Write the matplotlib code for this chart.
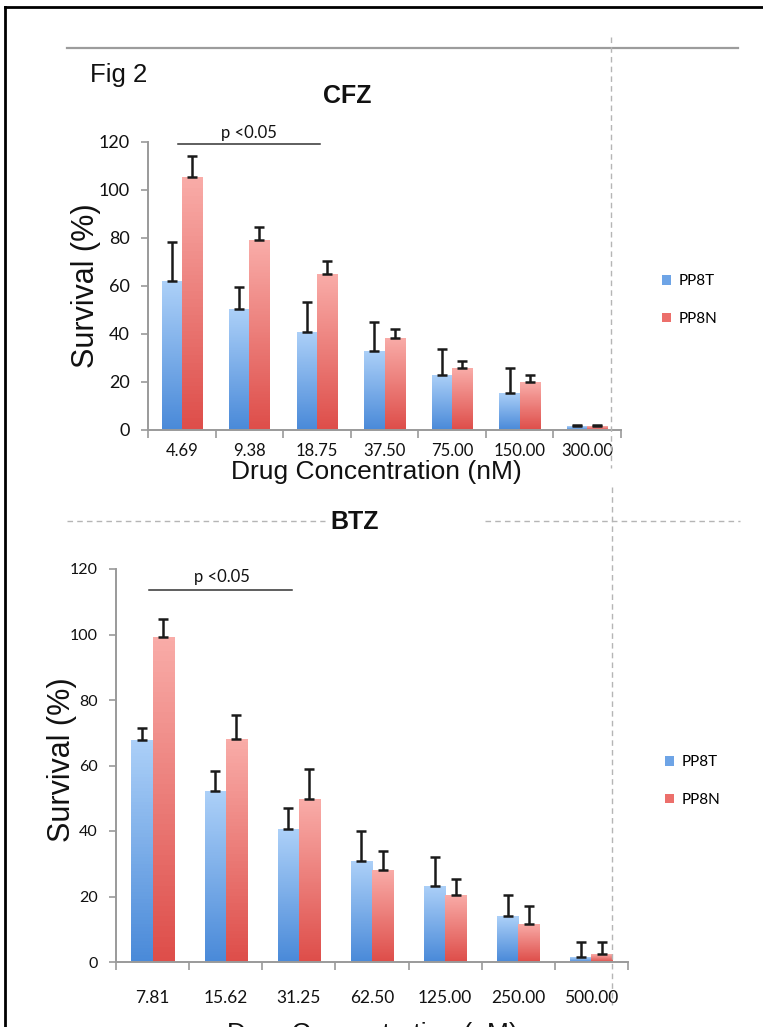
import numpy as np
import matplotlib
matplotlib.use("Agg")
import matplotlib.pyplot as plt
from matplotlib.lines import Line2D
from matplotlib.patches import Patch
from matplotlib.colors import LinearSegmentedColormap

# ---------------- data ----------------
cfz_conc = ["4.69", "9.38", "18.75", "37.50", "75.00", "150.00", "300.00"]
cfz_pp8t = [62.0, 50.5, 41.0, 33.0, 23.0, 15.5, 1.5]
cfz_pp8t_err = [16.5, 9.0, 12.5, 12.0, 10.7, 10.5, 0.5]
cfz_pp8n = [105.5, 79.0, 64.8, 38.5, 25.8, 20.0, 1.5]
cfz_pp8n_err = [8.8, 5.5, 5.5, 3.5, 3.0, 2.8, 0.5]

btz_conc = ["7.81", "15.62", "31.25", "62.50", "125.00", "250.00", "500.00"]
btz_pp8t = [67.8, 52.2, 40.5, 30.7, 23.3, 14.0, 1.5]
btz_pp8t_err = [3.8, 6.1, 6.4, 9.3, 8.8, 6.6, 4.7]
btz_pp8n = [99.3, 68.2, 49.7, 28.2, 20.6, 11.7, 2.3]
btz_pp8n_err = [5.3, 7.2, 9.1, 5.6, 4.6, 5.3, 3.9]

series_names = ["PP8T", "PP8N"]
yticks = [0, 20, 40, 60, 80, 100, 120]

# ---------------- figure ----------------
W, H = 763, 1027
fig = plt.figure(figsize=(W / 100, H / 100), dpi=100)
fig.patch.set_facecolor("white")

def fx(x):
    return x / W

def fy(y):
    return 1 - y / H

TICKFONT = ["Lato", "DejaVu Sans"]
LABFONT = ["Liberation Sans", "DejaVu Sans"]
TXT = "#111111"

blue_cmap = LinearSegmentedColormap.from_list("b", ["#4a8ad9", "#acd0f8"])
red_cmap = LinearSegmentedColormap.from_list("r", ["#de4e4a", "#f9aca8"])
grad = np.linspace(0, 1, 64).reshape(-1, 1)


def gradient_bars(ax, bars, cmap):
    for b in bars:
        x0, y0 = b.get_xy()
        w, h = b.get_width(), b.get_height()
        if h <= 0:
            continue
        im = ax.imshow(grad, extent=[x0, x0 + w, y0, y0 + h], cmap=cmap,
                       aspect="auto", origin="lower", zorder=2)
        im.set_clip_path(b)


def make_panel(rect, cats, t, terr, n, nerr, ylab_size, tick_size, width, xlabpad):
    ax = fig.add_axes(rect)
    x = np.arange(len(cats))
    b1 = ax.bar(x - width / 2, t, width, color="#7aaee9", zorder=1, linewidth=0)
    b2 = ax.bar(x + width / 2, n, width, color="#ee7c78", zorder=1, linewidth=0)
    gradient_bars(ax, b1, blue_cmap)
    gradient_bars(ax, b2, red_cmap)
    ekw = dict(fmt="none", ecolor="#1a1a1a", elinewidth=1.8, capsize=3.6,
               capthick=1.8, zorder=4)
    ax.errorbar(x - width / 2, t, yerr=[np.zeros(len(t)), terr], **ekw)
    ax.errorbar(x + width / 2, n, yerr=[np.zeros(len(n)), nerr], **ekw)
    ax.set_xlim(-0.5, len(cats) - 0.5)
    ax.set_ylim(0, 120)
    ax.set_yticks(yticks)
    ax.set_yticklabels([str(v) for v in yticks], fontsize=ylab_size,
                       family=TICKFONT, color=TXT)
    ax.set_xticks(x)
    ax.set_xticklabels(cats, fontsize=tick_size, family=TICKFONT, color=TXT)
    ax.set_xticks(np.arange(len(cats) + 1) - 0.5, minor=True)
    ax.tick_params(axis="x", which="major", length=0, pad=xlabpad)
    ax.tick_params(axis="x", which="minor", length=6, width=1.2, color="#9a9a9a",
                   direction="out")
    ax.tick_params(axis="y", length=5, width=1.2, color="#9a9a9a", direction="out",
                   pad=8)
    for s in ["top", "right"]:
        ax.spines[s].set_visible(False)
    for s in ["left", "bottom"]:
        ax.spines[s].set_color("#9a9a9a")
        ax.spines[s].set_linewidth(1.4)
    ax.patch.set_alpha(0)
    return ax


# top panel (CFZ)
ax1 = make_panel([fx(148), fy(430), fx(621) - fx(148), fy(142) - fy(430)],
                 cfz_conc, cfz_pp8t, cfz_pp8t_err, cfz_pp8n, cfz_pp8n_err,
                 13, 12, 0.30, 9)
# bottom panel (BTZ)
ax2 = make_panel([fx(116), fy(962), fx(628) - fx(116), fy(569) - fy(962)],
                 btz_conc, btz_pp8t, btz_pp8t_err, btz_pp8n, btz_pp8n_err,
                 11.5, 12.5, 0.29, 20)

# significance brackets
ax1.plot([-0.05, 2.05], [119.2, 119.2], color="#333333", lw=1.1, clip_on=False, zorder=5)
ax1.text(1.0, 120.5, "p <0.05", ha="center", va="bottom", fontsize=12,
         family=TICKFONT, color=TXT)
ax2.plot([-0.05, 1.9], [113.7, 113.7], color="#333333", lw=1.1, clip_on=False, zorder=5)
ax2.text(0.95, 115.0, "p <0.05", ha="center", va="bottom", fontsize=12,
         family=TICKFONT, color=TXT)

# axis labels
for yc, xc in [(286, 86), (760, 62)]:
    fig.text(fx(xc), fy(yc), "Survival (%)", rotation=90, ha="center", va="center",
             fontsize=22, family=LABFONT, color=TXT)
fig.text(fx(376), fy(472), "Drug Concentration (nM)", ha="center", va="center",
         fontsize=19, family=LABFONT, color=TXT)
fig.text(fx(372), fy(1034), "Drug Concentration (nM)", ha="center", va="center",
         fontsize=19, family=LABFONT, color=TXT)

# titles
fig.text(fx(90), fy(75), "Fig 2", ha="left", va="center", fontsize=18.5,
         family=LABFONT, color=TXT)
fig.text(fx(347), fy(96), "CFZ", ha="center", va="center", fontsize=18,
         family=LABFONT, weight="bold", color=TXT)
fig.text(fx(355), fy(522), "BTZ", ha="center", va="center", fontsize=18,
         family=LABFONT, weight="bold", color=TXT)

# legends
handles = [Patch(facecolor="#6ea4e6", edgecolor="none"),
           Patch(facecolor="#ec6f6b", edgecolor="none")]
for ax, x0, ytop in [(ax1, 656, 268), (ax2, 659, 749)]:
    ax.legend(handles, series_names, loc="upper left",
              bbox_to_anchor=(fx(x0), fy(ytop)), bbox_transform=fig.transFigure,
              frameon=False, handlelength=0.6, handleheight=0.6,
              handletextpad=0.45, labelspacing=1.55, borderaxespad=0,
              prop={"family": TICKFONT, "size": 11})

# decorative frame and rules
def fline(xs, ys, **kw):
    fig.add_artist(Line2D([fx(v) for v in xs], [fy(v) for v in ys],
                          transform=fig.transFigure, **kw))

fline([5, 5], [7, 1030], color="black", lw=2)
fline([5, 770], [7, 7], color="black", lw=2)
fline([67, 738], [48, 48], color="#9c9c9c", lw=1.6)
fline([611, 611], [37, 468], color="#b5b5b5", lw=1, ls=(0, (4, 3)))
fline([67, 325], [521, 521], color="#b5b5b5", lw=1, ls=(0, (4, 3)))
fline([485, 740], [521, 521], color="#b5b5b5", lw=1, ls=(0, (4, 3)))
fline([612, 612], [487, 1005], color="#b5b5b5", lw=1, ls=(0, (4, 3)))

fig.savefig("out.png", dpi=100)
